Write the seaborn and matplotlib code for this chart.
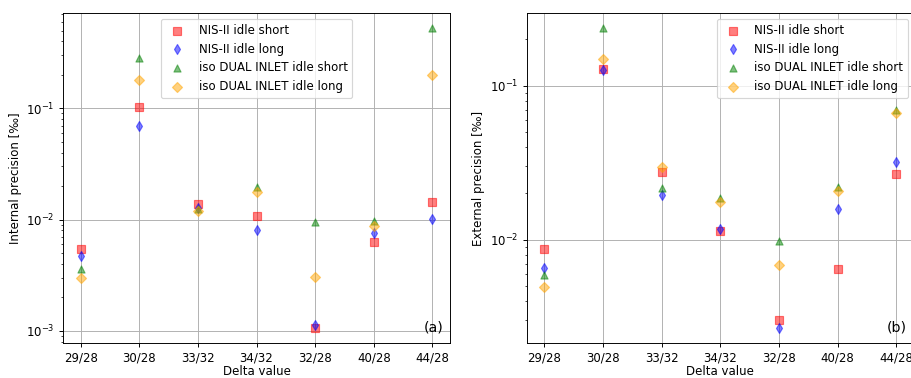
import numpy as np
import pandas as pd
import matplotlib
matplotlib.use("Agg")
import matplotlib.pyplot as plt
import seaborn as sns

categories = ["29/28", "30/28", "33/32", "34/32", "32/28", "40/28", "44/28"]
series_names = ["NIS-II idle short", "NIS-II idle long",
                "iso DUAL INLET idle short", "iso DUAL INLET idle long"]

# Internal precision (panel a)
int_nis_short = [0.00548, 0.1028, 0.0139, 0.0107, 0.00106, 0.0063, 0.0144]
int_nis_long = [0.00471, 0.0699, 0.0128, 0.00808, 0.00112, 0.00754, 0.0102]
int_iso_short = [0.00357, 0.283, 0.01256, 0.0196, 0.00952, 0.00973, 0.527]
int_iso_long = [0.00299, 0.178, 0.01189, 0.0177, 0.00303, 0.00877, 0.198]

# External precision (panel b)
ext_nis_short = [0.00871, 0.128, 0.0276, 0.01138, 0.0030, 0.00643, 0.0269]
ext_nis_long = [0.00652, 0.127, 0.0194, 0.01173, 0.00268, 0.01596, 0.0318]
ext_iso_short = [0.00593, 0.2366, 0.0218, 0.0187, 0.00985, 0.0220, 0.0695]
ext_iso_long = [0.00493, 0.1483, 0.0298, 0.0175, 0.00689, 0.0207, 0.0668]

colors = ["red", "blue", "green", "orange"]
markers = ["s", "d", "^", "D"]

dpi = 85
fig = plt.figure(figsize=(912 / dpi, 378 / dpi), dpi=dpi)
ax1 = fig.add_axes([63 / 912, 35 / 378, 387 / 912, 330 / 378])
ax2 = fig.add_axes([526.7 / 912, 35 / 378, 387.3 / 912, 330 / 378])

panels = [
    (ax1, [int_nis_short, int_nis_long, int_iso_short, int_iso_long],
     "Internal precision [‰]", "(a)", "upper center"),
    (ax2, [ext_nis_short, ext_nis_long, ext_iso_short, ext_iso_long],
     "External precision [‰]", "(b)", "upper right"),
]

for ax, series, ylabel, tag, loc in panels:
    for name, vals, c, m in zip(series_names, series, colors, markers):
        df = pd.DataFrame({"Delta value": categories, "value": vals})
        sns.scatterplot(data=df, x="Delta value", y="value", ax=ax,
                        marker=m, color=c, alpha=0.5, s=36,
                        edgecolor=c, linewidth=1.0, label=name, zorder=3)
    ax.set_yscale("log")
    ax.grid(True, which="major", color="#b0b0b0", linewidth=0.8, zorder=0)
    ax.set_axisbelow(True)
    ax.set_xlabel("Delta value", labelpad=0.5)
    ax.set_ylabel(ylabel)
    ax.legend(loc=loc)
    ax.text(0.982, 0.025, tag, transform=ax.transAxes, ha="right",
            va="bottom", fontsize=12)

fig.savefig("out.png", dpi=dpi)
